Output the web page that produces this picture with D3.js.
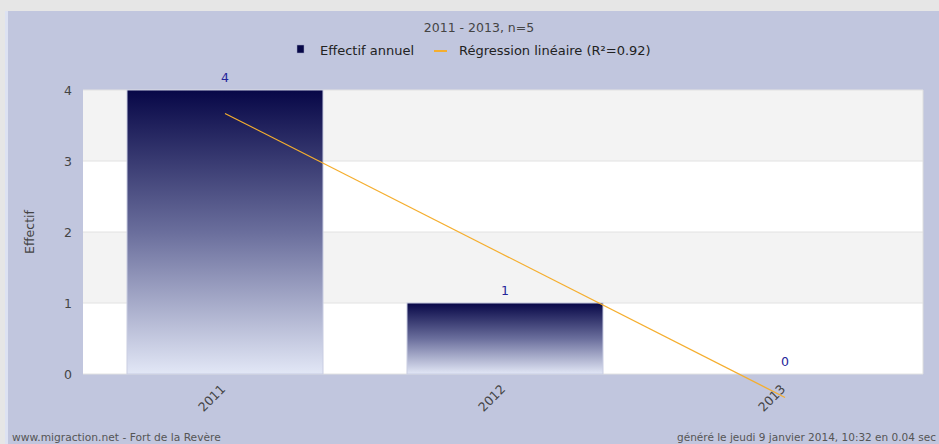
<!DOCTYPE html>
<meta charset="utf-8">
<script src="https://d3js.org/d3.v7.min.js"></script>
<style>
  body { margin: 0; background: #e6e6e6; }
  text { font-family: "DejaVu Sans", sans-serif; }
</style>
<div id="chart"></div>
<script>

// data
var years = ["2011", "2012", "2013"];
var effectif = [4, 1, 0];
var regression = [3.67, 1.67, -0.33];   // linear fit, R² = 0.92
var yTicks = [0, 1, 2, 3, 4];

var W = 939, H = 444;
var plot = {left: 83, right: 923, top: 90, bottom: 374};

var svg = d3.select("#chart").append("svg")
    .attr("width", W)
    .attr("height", H);

// chart frame
svg.append("rect").attr("x", 5).attr("y", 11).attr("width", 3).attr("height", H - 11).attr("fill", "#dde2f2");
svg.append("rect").attr("x", 8).attr("y", 11).attr("width", W - 8).attr("height", H - 11).attr("fill", "#c1c6de");

var x = d3.scaleBand()
  .domain(years)
  .range([85, 925])
  .paddingInner(0.3)
  .paddingOuter(0.15);

var y = d3.scaleLinear()
  .domain([0, 4])
  .range([plot.bottom, plot.top]);

// alternating background bands
svg.append("g").selectAll("rect")
  .data(yTicks.slice(0, -1))
  .enter().append("rect")
    .attr("x", plot.left)
    .attr("width", plot.right - plot.left)
    .attr("y", function(d) { return y(d + 1); })
    .attr("height", function(d) { return y(d) - y(d + 1); })
    .attr("fill", function(d) { return d % 2 ? "#f3f3f3" : "#ffffff"; });

// grid lines
svg.append("g").selectAll("line")
  .data(yTicks)
  .enter().append("line")
    .attr("x1", plot.left).attr("x2", plot.right)
    .attr("y1", function(d) { return y(d); })
    .attr("y2", function(d) { return y(d); })
    .attr("stroke", "#e2e2e2");
svg.append("line")
  .attr("x1", plot.right).attr("x2", plot.right)
  .attr("y1", plot.top).attr("y2", plot.bottom)
  .attr("stroke", "#dedede");

// y axis
var yAxis = svg.append("g")
  .attr("transform", "translate(" + plot.left + ",0)")
  .call(d3.axisLeft(y).tickValues(yTicks).tickFormat(d3.format("d")).tickSize(0).tickPadding(11));
yAxis.select(".domain").remove();
yAxis.selectAll("text").attr("fill", "#444").style("font-size", "12.5px");

svg.append("text")
  .attr("transform", "translate(34,232) rotate(-90)")
  .attr("text-anchor", "middle")
  .attr("fill", "#444")
  .style("font-size", "12.5px")
  .text("Effectif");

// bar gradient
var grad = svg.append("defs").append("linearGradient")
  .attr("id", "barGrad")
  .attr("x1", 0).attr("y1", 0).attr("x2", 0).attr("y2", 1);
grad.append("stop").attr("offset", "0%").attr("stop-color", "#070747");
grad.append("stop").attr("offset", "50%").attr("stop-color", "#6a6e9c");
grad.append("stop").attr("offset", "100%").attr("stop-color", "#e2e7f6");

var data = years.map(function(d, i) { return {year: d, value: effectif[i], reg: regression[i]}; });

svg.append("g").selectAll("rect")
  .data(data.filter(function(d) { return d.value > 0; }))
  .enter().append("rect")
    .attr("x", function(d) { return x(d.year); })
    .attr("y", function(d) { return y(d.value); })
    .attr("width", x.bandwidth())
    .attr("height", function(d) { return y(0) - y(d.value); })
    .attr("fill", "url(#barGrad)")
    .attr("stroke", "#c9cde2")
    .attr("stroke-width", 1);

// value labels
svg.append("g").selectAll("text")
  .data(data)
  .enter().append("text")
    .attr("x", function(d) { return x(d.year) + x.bandwidth() / 2; })
    .attr("y", function(d) { return y(d.value) - 8; })
    .attr("text-anchor", "middle")
    .attr("fill", "#24249a")
    .style("font-size", "12.5px")
    .text(function(d) { return d.value; });

// regression line
var line = d3.line()
  .x(function(d) { return x(d.year) + x.bandwidth() / 2; })
  .y(function(d) { return y(d.reg); });
svg.append("path")
  .datum([data[0], data[data.length - 1]])
  .attr("d", line)
  .attr("fill", "none")
  .attr("stroke", "#f5ae2e")
  .attr("stroke-width", 1.2);

// x axis labels, rotated
var xAxis = svg.append("g")
  .attr("transform", "translate(0," + plot.bottom + ")")
  .call(d3.axisBottom(x).tickSize(0).tickPadding(0));
xAxis.select(".domain").remove();
xAxis.selectAll("text")
  .attr("fill", "#444")
  .style("font-size", "12.5px")
  .attr("text-anchor", "end")
  .attr("dy", 0)
  .attr("transform", "translate(1,16) rotate(-45)");

// title
svg.append("text")
  .attr("x", 479).attr("y", 32)
  .attr("text-anchor", "middle")
  .attr("fill", "#444")
  .style("font-size", "12.5px")
  .text("2011 - 2013, n=5");

// legend
var lg = svg.append("g");
lg.append("rect").attr("x", 297).attr("y", 45).attr("width", 7).attr("height", 8)
  .attr("fill", "#070747").attr("stroke", "#9aa0c0").attr("stroke-width", 0.5);
lg.append("text").attr("x", 320).attr("y", 55).attr("fill", "#222").style("font-size", "13px").text("Effectif annuel");
lg.append("line").attr("x1", 434).attr("x2", 447).attr("y1", 51).attr("y2", 51)
  .attr("stroke", "#f5ae2e").attr("stroke-width", 2);
lg.append("text").attr("x", 459).attr("y", 55).attr("fill", "#222").style("font-size", "13px").text("Régression linéaire (R²=0.92)");

// footer
svg.append("text").attr("x", 12).attr("y", 441).attr("fill", "#555").style("font-size", "10.7px")
  .text("www.migraction.net - Fort de la Revère");
svg.append("text").attr("x", 936).attr("y", 441).attr("text-anchor", "end").attr("fill", "#555").style("font-size", "10.5px")
  .text("généré le jeudi 9 janvier 2014, 10:32 en 0.04 sec");

</script>
